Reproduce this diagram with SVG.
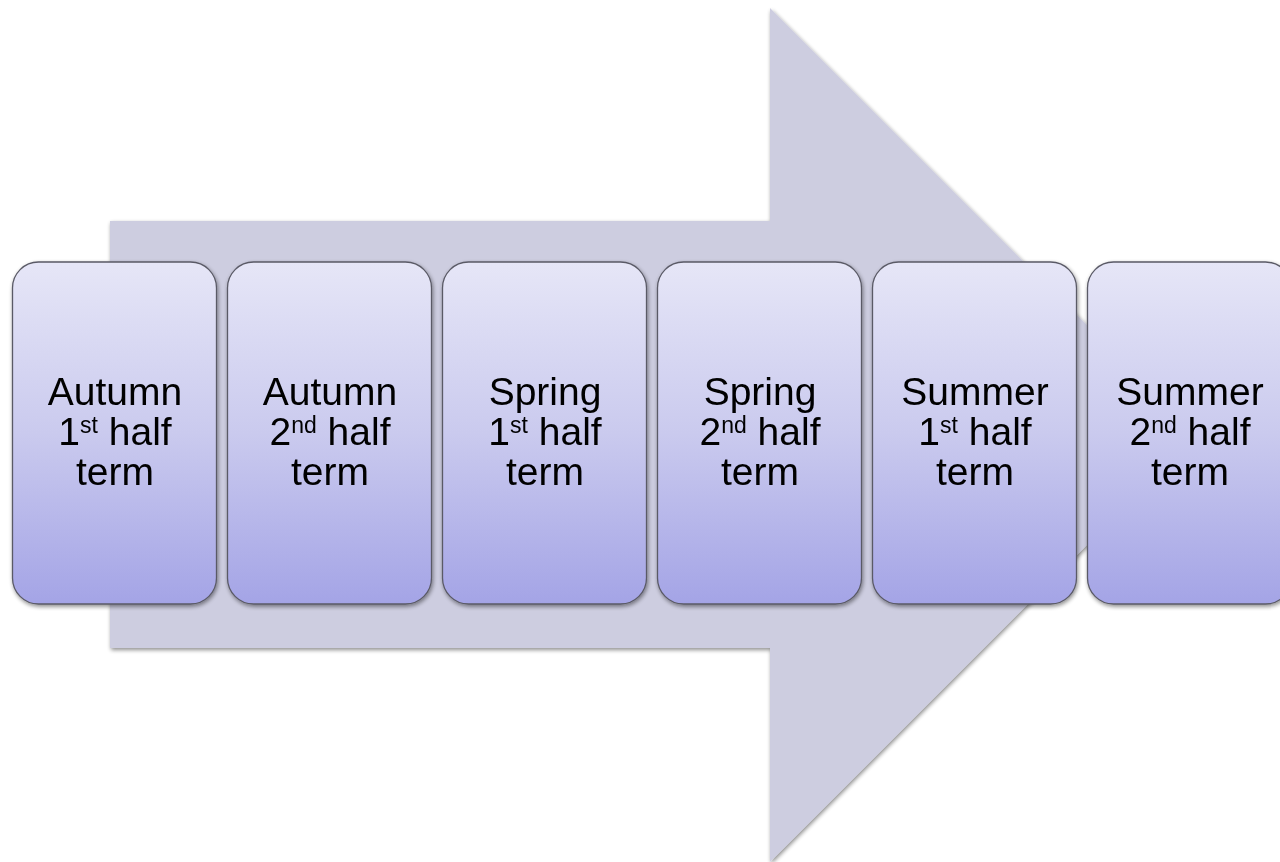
<svg xmlns="http://www.w3.org/2000/svg" width="1280" height="862" viewBox="0 0 1280 862">
<defs>
<linearGradient id="g" x1="0" y1="0" x2="0" y2="1">
<stop offset="0" stop-color="#e6e6f7"/>
<stop offset="0.5" stop-color="#cacaee"/>
<stop offset="1" stop-color="#a4a4e6"/>
</linearGradient>
<filter id="sh" x="-10%" y="-10%" width="120%" height="120%">
<feGaussianBlur in="SourceAlpha" stdDeviation="2"/>
<feOffset dx="1" dy="2" result="b"/>
<feComponentTransfer><feFuncA type="linear" slope="0.45"/></feComponentTransfer>
<feMerge><feMergeNode/><feMergeNode in="SourceGraphic"/></feMerge>
</filter>
<style>
.box{fill:url(#g);stroke:#5a5a66;stroke-width:1.3}
.t{font-family:"Liberation Sans",Arial,sans-serif;font-size:39px;fill:#000;text-anchor:middle}
.s{font-size:23px}
</style>
</defs>
<rect width="1280" height="862" fill="#fff"/>
<g id="arrow">
<polygon points="110,221 770,221 770,8 1197,435 770,862 770,648 110,648" fill="#cdcde0" filter="url(#sh)"/>
</g>
<g id="connectors"></g>
<g id="n1" filter="url(#sh)">
<rect class="box" x="12.5" y="262" width="204" height="342" rx="26"/>
<text class="t" x="115" y="405">Autumn</text>
<text class="t" x="115" y="445">1<tspan class="s" dy="-12">st</tspan><tspan dy="12"> half</tspan></text>
<text class="t" x="115" y="485">term</text>
</g>
<g id="n2" filter="url(#sh)">
<rect class="box" x="227.5" y="262" width="204" height="342" rx="26"/>
<text class="t" x="330" y="405">Autumn</text>
<text class="t" x="330" y="445">2<tspan class="s" dy="-12">nd</tspan><tspan dy="12"> half</tspan></text>
<text class="t" x="330" y="485">term</text>
</g>
<g id="n3" filter="url(#sh)">
<rect class="box" x="442.5" y="262" width="204" height="342" rx="26"/>
<text class="t" x="545" y="405">Spring</text>
<text class="t" x="545" y="445">1<tspan class="s" dy="-12">st</tspan><tspan dy="12"> half</tspan></text>
<text class="t" x="545" y="485">term</text>
</g>
<g id="n4" filter="url(#sh)">
<rect class="box" x="657.5" y="262" width="204" height="342" rx="26"/>
<text class="t" x="760" y="405">Spring</text>
<text class="t" x="760" y="445">2<tspan class="s" dy="-12">nd</tspan><tspan dy="12"> half</tspan></text>
<text class="t" x="760" y="485">term</text>
</g>
<g id="n5" filter="url(#sh)">
<rect class="box" x="872.5" y="262" width="204" height="342" rx="26"/>
<text class="t" x="975" y="405">Summer</text>
<text class="t" x="975" y="445">1<tspan class="s" dy="-12">st</tspan><tspan dy="12"> half</tspan></text>
<text class="t" x="975" y="485">term</text>
</g>
<g id="n6" filter="url(#sh)">
<rect class="box" x="1087.5" y="262" width="204" height="342" rx="26"/>
<text class="t" x="1190" y="405">Summer</text>
<text class="t" x="1190" y="445">2<tspan class="s" dy="-12">nd</tspan><tspan dy="12"> half</tspan></text>
<text class="t" x="1190" y="485">term</text>
</g>
</svg>
